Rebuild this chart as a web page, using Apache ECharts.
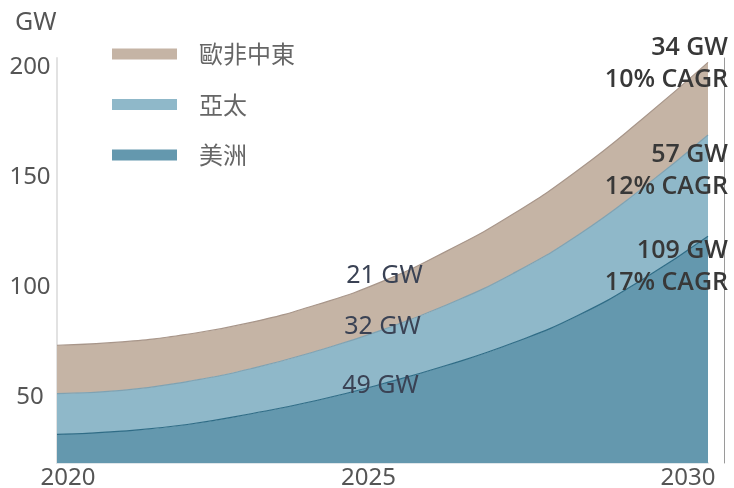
<!DOCTYPE html>
<html>
<head>
<meta charset="utf-8">
<script src="https://cdn.jsdelivr.net/npm/echarts@6/dist/echarts.min.js"></script>
<style>
  html, body { margin: 0; padding: 0; background: #fff; }
  #chart { width: 734px; height: 488px; }
</style>
</head>
<body>
<div id="chart"></div>
<script>
// 年份
const years = ['2020', '2021', '2022', '2023', '2024', '2025', '2026', '2027', '2028', '2029', '2030'];
// 各區域容量 (GW)，堆疊
const americas = [33, 34.5, 37.5, 42.5, 48.5, 56, 64.5, 74.5, 87, 103.5, 123];
const asiaPac = [18.5, 18.5, 19.5, 20.5, 22.5, 24.5, 27.5, 31.5, 36.5, 41.5, 46];
const emea = [22, 22, 21.5, 21, 21, 22, 24.5, 27, 29.5, 31.5, 33];
// 2025 標註
const gw2025 = { emea: 21, asiaPac: 32, americas: 49 };
// 2030 標註
const gw2030 = { emea: 34, asiaPac: 57, americas: 109 };
const cagr = { emea: 10, asiaPac: 12, americas: 17 };
const yTickLabels = [50, 100, 150, 200];

const FONT = '"Noto Sans", "Noto Sans CJK TC", sans-serif';
const colors = { emea: '#c5b4a5', asiaPac: '#8fb8c9', americas: '#6498ae' };
const lineColors = { emea: '#a8968a', asiaPac: '#7fa2b2', americas: '#2f6c86' };

// 給特定點加標籤
function withLabels(values, key, mid, end) {
  return values.map((v, i) => {
    if (i === 5) {
      return {
        value: v,
        label: {
          show: true, position: 'inside', formatter: gw2025[key] + ' GW',
          fontFamily: FONT, fontSize: 25, color: '#3a4254', offset: mid
        }
      };
    }
    if (i === 10) {
      return {
        value: v,
        label: {
          show: true, position: 'inside', align: 'right', verticalAlign: 'middle',
          formatter: gw2030[key] + ' GW\n' + cagr[key] + '% CAGR',
          fontFamily: '"Open Sans", "Noto Sans", sans-serif', fontSize: 25, fontWeight: 600, color: '#383838',
          lineHeight: 32, offset: end
        }
      };
    }
    return v;
  });
}

function makeSeries(name, key, values, mid, end) {
  return {
    name: name,
    type: 'line',
    stack: 'total',
    smooth: 0.5,
    showSymbol: true,
    symbol: 'circle',
    symbolSize: 0,
    color: colors[key],
    itemStyle: { color: colors[key] },
    lineStyle: { color: lineColors[key], width: 1.2 },
    areaStyle: { color: colors[key], opacity: 1 },
    emphasis: { disabled: true },
    data: withLabels(values, key, mid, end)
  };
}

const chart = echarts.init(document.getElementById('chart'), null, { renderer: 'canvas' });

const option = {
  backgroundColor: '#fff',
  animation: false,
  title: {
    text: 'GW', left: 10, top: 5,
    textStyle: { fontFamily: FONT, fontSize: 25, fontWeight: 'normal', color: '#555' }
  },
  legend: {
    orient: 'vertical',
    left: 112,
    top: 41,
    padding: 0,
    itemWidth: 65,
    itemHeight: 11,
    itemGap: 24.5,
    icon: 'rect',
    data: [
      { name: '歐非中東', itemStyle: { color: colors.emea } },
      { name: '亞太', itemStyle: { color: colors.asiaPac } },
      { name: '美洲', itemStyle: { color: colors.americas } }
    ],
    textStyle: {
      fontFamily: '"Noto Sans CJK TC", sans-serif', fontSize: 24, color: '#666',
      lineHeight: 26, padding: [0, 0, 0, 17]
    }
  },
  grid: { left: 57, right: 26, top: 58, bottom: 25, containLabel: false, outerBoundsMode: 'none' },
  xAxis: {
    type: 'category',
    boundaryGap: false,
    data: years,
    axisLine: { show: true, lineStyle: { color: '#dfe6ea', width: 2 } },
    axisTick: { show: false },
    axisLabel: {
      interval: 4,
      margin: 3,
      fontFamily: FONT, fontSize: 24, color: '#555',
      formatter: function (v) {
        if (v === '2020') return '{a|' + v + '}';
        if (v === '2025') return '{b|' + v + '}';
        return '{c|' + v + '}';
      },
      rich: {
        a: { fontFamily: FONT, fontSize: 24, color: '#555', padding: [0, 0, 0, 22] },
        b: { fontFamily: FONT, fontSize: 24, color: '#555', padding: [0, 28, 0, 0] },
        c: { fontFamily: FONT, fontSize: 24, color: '#555', padding: [0, 40, 0, 0] }
      }
    },
    splitLine: { show: false }
  },
  yAxis: [
    {
      type: 'value',
      min: 20,
      max: 204,
      interval: 2,
      axisLine: { show: true, lineStyle: { color: '#e2e2e2', width: 2 } },
      axisTick: { show: false },
      splitLine: { show: false },
      axisLabel: {
        margin: 27,
        align: 'center',
        fontFamily: FONT, fontSize: 24, color: '#555',
        formatter: function (v) { return yTickLabels.indexOf(v) >= 0 ? String(v) : ''; }
      }
    },
    {
      type: 'value',
      position: 'right',
      offset: 16,
      min: 20,
      max: 204,
      axisLine: { show: true, lineStyle: { color: '#9a9a9a', width: 1 } },
      axisTick: { show: false },
      axisLabel: { show: false },
      splitLine: { show: false }
    }
  ],
  series: [
    makeSeries('美洲', 'americas', americas, [-2, 2], [20, 31]),
    makeSeries('亞太', 'asiaPac', asiaPac, [0, -2.5], [20, 36]),
    makeSeries('歐非中東', 'emea', emea, [2, -6], [20, 1])
  ]
};

chart.setOption(option);
</script>
</body>
</html>
